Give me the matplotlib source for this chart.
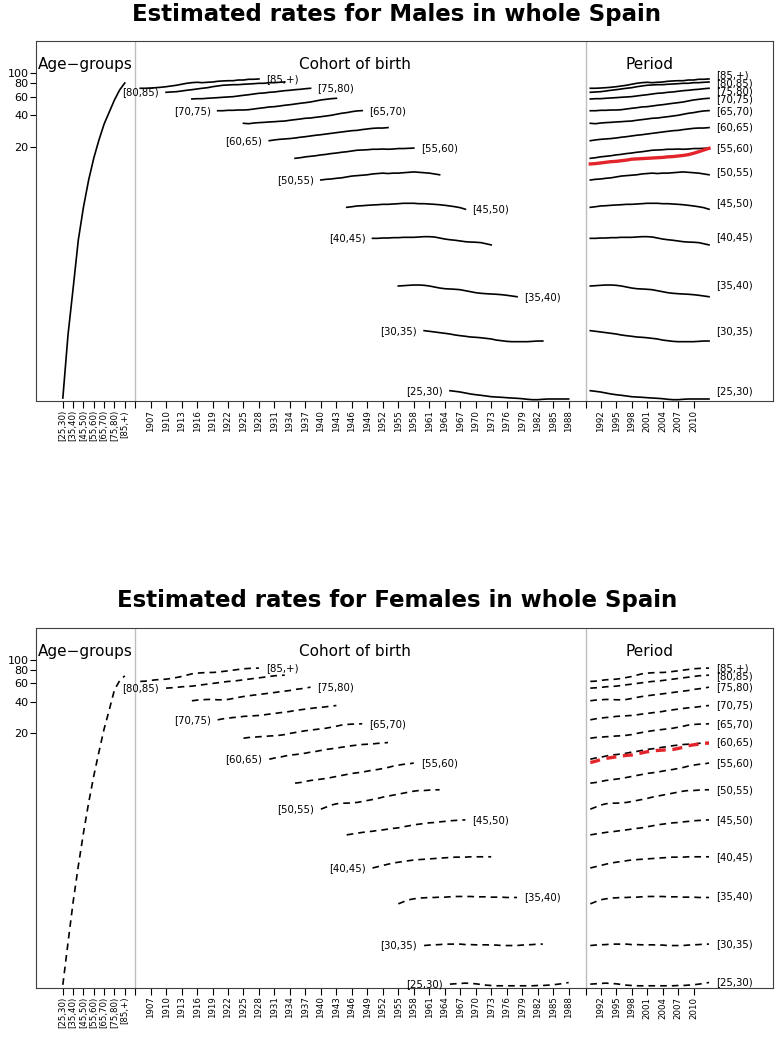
import matplotlib

matplotlib.use("Agg")

import numpy as np  # noqa: E402
from matplotlib import pyplot as plt  # noqa: E402

plt.rcParams["font.family"] = ["DejaVu Sans"]

# ---- data -------------------------------------------------------------
periods = np.arange(1990, 2014)
age_labels = ["[25,30)", "[30,35)", "[35,40)", "[40,45)", "[45,50)", "[50,55)", "[55,60)",
              "[60,65)", "[65,70)", "[70,75)", "[75,80)", "[80,85)", "[85,+)"]
age_lower = [25, 30, 35, 40, 45, 50, 55, 60, 65, 70, 75, 80, 85]

male_25_30 = [0.0949, 0.0936, 0.0922, 0.0902, 0.0883, 0.0869, 0.0858, 0.0845, 0.0832, 0.0826, 0.0821, 0.0814,
              0.0808, 0.0803, 0.0796, 0.0786, 0.0779, 0.0779, 0.0786, 0.0791, 0.0791, 0.0791, 0.0791, 0.0791]
male_30_35 = [0.354, 0.349, 0.344, 0.339, 0.334, 0.329, 0.322, 0.317, 0.313, 0.308, 0.306, 0.303,
              0.299, 0.295, 0.288, 0.284, 0.280, 0.278, 0.278, 0.278, 0.278, 0.280, 0.282, 0.282]
male_35_40 = [0.943, 0.949, 0.957, 0.963, 0.963, 0.957, 0.943, 0.922, 0.902, 0.888, 0.883, 0.877,
              0.869, 0.850, 0.832, 0.814, 0.803, 0.796, 0.791, 0.786, 0.779, 0.769, 0.757, 0.745]
male_40_45 = [2.68, 2.68, 2.70, 2.70, 2.72, 2.72, 2.74, 2.74, 2.74, 2.76, 2.78, 2.78,
              2.76, 2.70, 2.64, 2.60, 2.57, 2.53, 2.49, 2.47, 2.46, 2.44, 2.38, 2.32]
male_45_50 = [5.29, 5.36, 5.45, 5.48, 5.53, 5.57, 5.60, 5.65, 5.65, 5.69, 5.73, 5.78,
              5.78, 5.78, 5.73, 5.73, 5.69, 5.65, 5.60, 5.53, 5.45, 5.36, 5.25, 5.07]
male_50_55 = [9.63, 9.78, 9.85, 10.0, 10.1, 10.3, 10.5, 10.6, 10.7, 10.8, 11.0, 11.1,
              11.2, 11.1, 11.2, 11.2, 11.3, 11.4, 11.5, 11.4, 11.3, 11.2, 11.0, 10.8]
male_55_60 = [15.5, 15.7, 16.0, 16.2, 16.4, 16.7, 16.9, 17.2, 17.4, 17.7, 17.9, 18.2,
              18.5, 18.6, 18.7, 18.9, 18.9, 19.0, 18.9, 19.0, 19.2, 19.2, 19.3, 19.4]
male_60_65 = [22.8, 23.2, 23.5, 23.7, 23.9, 24.2, 24.6, 24.9, 25.3, 25.7, 26.0, 26.4,
              26.8, 27.2, 27.6, 28.0, 28.4, 28.6, 29.1, 29.5, 29.9, 30.1, 30.1, 30.4]
male_65_70 = [33.4, 33.1, 33.6, 33.9, 34.1, 34.4, 34.6, 34.9, 35.1, 35.7, 36.2, 36.7,
              37.3, 37.5, 38.1, 38.6, 39.2, 39.8, 40.7, 41.6, 42.2, 43.1, 43.8, 44.1]
male_70_75 = [44.0, 44.0, 44.4, 44.4, 44.7, 44.7, 45.0, 45.7, 46.4, 47.0, 47.8, 48.1,
              48.8, 49.6, 50.2, 51.0, 51.8, 52.5, 53.3, 54.5, 55.7, 56.5, 57.3, 57.8]
male_75_80 = [56.9, 57.3, 57.3, 57.8, 58.2, 58.6, 59.1, 59.5, 59.9, 60.8, 61.7, 62.5,
              63.5, 64.5, 64.9, 65.9, 66.4, 67.4, 68.3, 68.9, 69.8, 70.4, 71.3, 72.0]
male_80_85 = [65.9, 66.4, 66.8, 67.8, 68.9, 69.8, 70.9, 72.0, 72.9, 74.5, 75.7, 76.9,
              77.4, 77.9, 77.9, 78.6, 79.1, 79.6, 80.3, 80.3, 81.4, 81.4, 82.1, 82.6]
male_85_up = [72.0, 72.0, 72.4, 72.9, 73.6, 74.5, 75.7, 76.9, 78.6, 80.3, 81.4, 82.1,
              81.4, 82.1, 82.6, 83.9, 84.5, 85.0, 85.0, 86.3, 86.3, 87.7, 87.7, 88.3]
male_reference = [13.7, 13.8, 14.0, 14.2, 14.4, 14.5, 14.7, 14.9, 15.2, 15.3, 15.4, 15.5,
                  15.6, 15.7, 15.8, 16.0, 16.1, 16.3, 16.5, 16.8, 17.3, 17.9, 18.6, 19.3]
male_age_effect = [0.0808, 0.322, 0.902, 2.59, 5.33, 9.63, 15.6, 23.2, 32.9, 42.8, 55.7, 69.3, 80.8]

female_25_30 = [0.0815, 0.0821, 0.0827, 0.0833, 0.0827, 0.0821, 0.0809, 0.0797, 0.0791, 0.0786, 0.0786, 0.0786,
                0.0786, 0.0786, 0.0786, 0.0786, 0.0786, 0.0791, 0.0791, 0.0797, 0.0803, 0.0815, 0.0827, 0.0845]
female_30_35 = [0.190, 0.192, 0.193, 0.194, 0.196, 0.196, 0.196, 0.196, 0.194, 0.194, 0.193, 0.193,
                0.193, 0.192, 0.192, 0.190, 0.190, 0.190, 0.190, 0.192, 0.193, 0.194, 0.196, 0.196]
female_35_40 = [0.474, 0.496, 0.518, 0.529, 0.537, 0.541, 0.545, 0.545, 0.549, 0.549, 0.553, 0.557,
                0.557, 0.557, 0.557, 0.553, 0.553, 0.553, 0.549, 0.549, 0.549, 0.545, 0.545, 0.545]
female_40_45 = [1.04, 1.07, 1.10, 1.13, 1.16, 1.18, 1.20, 1.22, 1.24, 1.25, 1.26, 1.27,
                1.28, 1.29, 1.30, 1.31, 1.32, 1.32, 1.32, 1.33, 1.33, 1.33, 1.33, 1.33]
female_45_50 = [2.15, 2.19, 2.23, 2.27, 2.30, 2.33, 2.37, 2.40, 2.44, 2.48, 2.51, 2.57,
                2.62, 2.68, 2.72, 2.76, 2.80, 2.82, 2.86, 2.89, 2.93, 2.95, 2.97, 2.99]
female_50_55 = [3.78, 3.95, 4.13, 4.25, 4.31, 4.31, 4.34, 4.38, 4.47, 4.57, 4.67, 4.78,
                4.92, 5.03, 5.14, 5.25, 5.37, 5.49, 5.61, 5.69, 5.69, 5.74, 5.78, 5.78]
female_55_60 = [6.69, 6.78, 6.93, 7.09, 7.19, 7.30, 7.41, 7.57, 7.74, 7.91, 8.09, 8.27,
                8.39, 8.51, 8.70, 8.89, 9.02, 9.22, 9.43, 9.71, 9.92, 10.1, 10.2, 10.4]
female_60_65 = [11.3, 11.6, 11.8, 12.1, 12.4, 12.5, 12.7, 12.9, 13.2, 13.4, 13.7, 14.0,
                14.2, 14.4, 14.7, 14.9, 15.2, 15.4, 15.6, 15.7, 15.8, 16.0, 16.1, 16.3]
female_65_70 = [17.9, 18.2, 18.3, 18.5, 18.6, 18.8, 18.9, 19.1, 19.4, 19.9, 20.3, 20.7,
                21.1, 21.4, 21.7, 22.0, 22.3, 22.8, 23.3, 23.9, 24.2, 24.4, 24.4, 24.6]
female_70_75 = [26.8, 27.4, 27.8, 28.2, 28.4, 28.9, 29.1, 29.3, 29.5, 29.9, 30.4, 30.8,
                31.3, 31.7, 32.2, 32.9, 33.4, 33.9, 34.4, 34.9, 35.2, 35.7, 36.2, 36.7]
female_75_80 = [40.7, 41.3, 41.6, 41.9, 41.9, 41.6, 41.6, 41.9, 42.8, 43.8, 44.7, 45.4,
                46.1, 46.7, 47.4, 48.1, 48.8, 49.6, 50.3, 51.0, 52.2, 52.9, 53.7, 54.9]
female_80_85 = [53.7, 54.1, 54.5, 55.3, 55.7, 56.1, 56.9, 57.8, 58.6, 59.5, 60.4, 61.3,
                62.2, 62.6, 63.5, 64.5, 65.4, 66.4, 67.3, 68.3, 69.3, 70.4, 70.9, 71.4]
female_85_up = [62.2, 62.6, 63.5, 64.5, 64.9, 65.4, 66.4, 67.8, 69.3, 71.4, 73.5, 74.6,
                75.2, 75.7, 75.7, 76.3, 77.4, 78.5, 79.7, 80.9, 82.1, 82.7, 83.3, 83.3]
female_reference = [10.5, 10.8, 11.2, 11.5, 11.7, 11.9, 12.1, 12.3, 12.4, 12.7, 13.0, 13.3,
                    13.5, 13.7, 13.8, 13.9, 14.0, 14.3, 14.7, 15.2, 15.5, 15.7, 16.0, 16.1]
female_age_effect = [0.0803, 0.202, 0.496, 1.09, 2.25, 4.35, 7.86, 13.3, 22.0, 33.4, 51.8, 63.1, 70.4]

male_rates = [male_25_30, male_30_35, male_35_40, male_40_45, male_45_50, male_50_55, male_55_60,
              male_60_65, male_65_70, male_70_75, male_75_80, male_80_85, male_85_up]
female_rates = [female_25_30, female_30_35, female_35_40, female_40_45, female_45_50, female_50_55,
                female_55_60, female_60_65, female_65_70, female_70_75, female_75_80, female_80_85,
                female_85_up]

age_tick_labels = ["[25,30)", "[35,40)", "[45,50)", "[55,60)", "[65,70)", "[75,80)", "[85,+)"]
cohort_ticks = list(range(1907, 1989, 3))
period_ticks = list(range(1992, 2011, 3))
y_ticks = [20, 40, 60, 80, 100]
cohort_label_side = ["left", "left", "right", "left", "right", "left", "right",
                     "left", "right", "left", "right", "left", "right"]

# ---- layout ------------------------------------------------------------
AGE_X0 = 5.2
SEP1 = AGE_X0 + 14
COHORT_X0 = SEP1 - 1904
SEP2 = 106.6
PERIOD_X0 = SEP2 + 0.8 - 1990
X_LIMITS = (0, 142.8)
Y_LIMITS = (0.0757, 203.0)
LABEL_GAP_PX = 8


def _spread(values, gap):
    order = sorted(range(len(values)), key=lambda k: -values[k])
    groups = []
    for k in order:
        groups.append([k])
        while len(groups) > 1:
            upper, lower = groups[-2], groups[-1]
            c_up = np.mean([values[m] for m in upper])
            c_low = np.mean([values[m] for m in lower])
            if (c_up - gap * (len(upper) - 1) / 2) - (c_low + gap * (len(lower) - 1) / 2) >= gap:
                break
            groups[-2:] = [upper + lower]
    placed = {}
    for group in groups:
        centre = np.mean([values[m] for m in group])
        for j, m in enumerate(group):
            placed[m] = centre + gap * ((len(group) - 1) / 2 - j)
    return [placed[k] for k in range(len(values))]


def draw_panel(ax, rates, reference, age_effect, dashed):
    ax.set_yscale("log")
    ax.set_xlim(*X_LIMITS)
    ax.set_ylim(*Y_LIMITS)
    line = dict(color="black", lw=1.2)
    red = dict(color="#e3242b", lw=2.4)
    if dashed:
        line["linestyle"] = (0, (4, 3))
        red["linestyle"] = (0, (3, 2))

    ax.axvline(SEP1, color="#bebebe", lw=1)
    ax.axvline(SEP2, color="#bebebe", lw=1)

    age_x = AGE_X0 + np.arange(len(age_labels))
    ax.plot(age_x, age_effect, **line)
    period_x = PERIOD_X0 + periods
    for i, series in enumerate(rates):
        cohort_x = COHORT_X0 + periods - age_lower[i]
        ax.plot(cohort_x, series, **line)
        ax.plot(period_x, series, **line)
        if cohort_label_side[i] == "left":
            ax.annotate(age_labels[i], (cohort_x[0], series[0]), xytext=(-5, 0),
                        textcoords="offset points", ha="right", va="center", fontsize=7.3)
        else:
            ax.annotate(age_labels[i], (cohort_x[-1], series[-1]), xytext=(5, 0),
                        textcoords="offset points", ha="left", va="center", fontsize=7.3)
    ax.plot(period_x, reference, **red)

    peaks = [max(series) for series in rates]
    peak_px = [ax.transData.transform((0, p))[1] for p in peaks]
    label_px = _spread(peak_px, LABEL_GAP_PX)
    for i, peak in enumerate(peaks):
        dy = (label_px[i] - peak_px[i]) * 72 / 100
        ax.annotate(age_labels[i], (period_x[-1], peak), xytext=(5, dy),
                    textcoords="offset points", ha="left", va="center", fontsize=7.3)

    header = ax.get_xaxis_transform()
    cohort_mid = COHORT_X0 + (periods[0] - age_lower[-1] + periods[-1] - age_lower[0]) / 2
    ax.text(0.4, 0.922, "Age\u2212groups", transform=header, fontsize=11, ha="left", va="baseline")
    ax.text(cohort_mid, 0.922, "Cohort of birth", transform=header, fontsize=11, ha="center",
            va="baseline")
    ax.text(period_x.mean(), 0.922, "Period", transform=header, fontsize=11, ha="center",
            va="baseline")

    ticks = (list(age_x[::2]) + [SEP1] + [COHORT_X0 + c for c in cohort_ticks] + [SEP2]
             + [PERIOD_X0 + p for p in period_ticks])
    tick_text = (age_tick_labels + [""] + [str(c) for c in cohort_ticks] + [""]
                 + [str(p) for p in period_ticks])
    ax.set_xticks(ticks, labels=tick_text, rotation=90, fontsize=6.2)
    ax.tick_params(axis="x", length=5, width=0.8, pad=1.5)
    ax.set_yticks(y_ticks, labels=[str(v) for v in y_ticks], fontsize=8)
    ax.minorticks_off()
    ax.tick_params(axis="y", length=4.3, width=0.8, pad=1)
    for spine in ax.spines.values():
        spine.set_color("#404040")
        spine.set_linewidth(0.8)


fig = plt.figure(figsize=(7.77, 10.42), dpi=100)
top = fig.add_axes([36 / 777, 1 - 401 / 1042, 737 / 777, 360 / 1042])
bottom = fig.add_axes([36 / 777, 1 - 987.5 / 1042, 737 / 777, 360 / 1042])
draw_panel(top, male_rates, male_reference, male_age_effect, dashed=False)
draw_panel(bottom, female_rates, female_reference, female_age_effect, dashed=True)
fig.text(397 / 777, 1 - 21 / 1042, "Estimated rates for Males in whole Spain",
         fontsize=16.5, fontweight="bold", ha="center", va="baseline")
fig.text(397 / 777, 1 - 607 / 1042, "Estimated rates for Females in whole Spain",
         fontsize=16.5, fontweight="bold", ha="center", va="baseline")
fig.savefig("out.png", dpi=100)
